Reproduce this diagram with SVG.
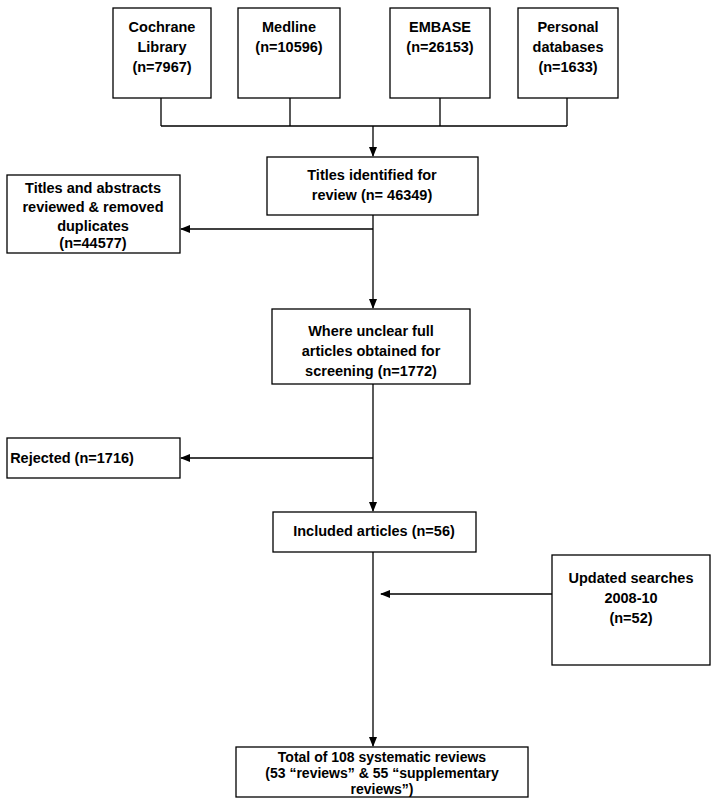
<svg xmlns="http://www.w3.org/2000/svg" width="721" height="800" viewBox="0 0 721 800">
<style>
.b{fill:#fff;stroke:#000;stroke-width:1.3}
.t{font-family:"Liberation Sans",Arial,sans-serif;font-weight:bold;font-size:14.5px;text-anchor:middle;fill:#000}
.s{font-size:14px}
.c{fill:none;stroke:#000;stroke-width:1.3}
</style>
<defs><marker id="a" markerWidth="10" markerHeight="10" refX="9" refY="5" orient="auto" markerUnits="userSpaceOnUse"><path d="M0,1 L10,5 L0,9 Z" fill="#000"/></marker></defs>
<rect width="721" height="800" fill="#fff"/>
<g id="connectors">
<path class="c" d="M161,98 V126 M290,98 V126 M440,98 V126 M567,98 V126 M161,126 H567"/>
<path class="c" d="M373,126 V156" marker-end="url(#a)"/>
<path class="c" d="M373,215 V308" marker-end="url(#a)"/>
<path class="c" d="M373,229 H181" marker-end="url(#a)"/>
<path class="c" d="M373,384 V511" marker-end="url(#a)"/>
<path class="c" d="M373,458 H181" marker-end="url(#a)"/>
<path class="c" d="M373,552 V746" marker-end="url(#a)"/>
<path class="c" d="M552,594 H381" marker-end="url(#a)"/>
</g>
<g id="cochrane"><rect class="b" x="113" y="8" width="98" height="90"/><text class="t" x="162" y="32">Cochrane</text><text class="t" x="162" y="52">Library</text><text class="t" x="162" y="72">(n=7967)</text></g>
<g id="medline"><rect class="b" x="238" y="8" width="102" height="90"/><text class="t" x="289" y="32">Medline</text><text class="t" x="289" y="52">(n=10596)</text></g>
<g id="embase"><rect class="b" x="390" y="8" width="100" height="90"/><text class="t" x="440" y="32">EMBASE</text><text class="t" x="440" y="52">(n=26153)</text></g>
<g id="personal"><rect class="b" x="518" y="8" width="100" height="90"/><text class="t" x="568" y="32">Personal</text><text class="t" x="568" y="52">databases</text><text class="t" x="568" y="72">(n=1633)</text></g>
<g id="titles"><rect class="b" x="267" y="157" width="211" height="58"/><text class="t" x="372" y="180">Titles identified for</text><text class="t" x="372" y="200">review (n= 46349)</text></g>
<g id="abstracts"><rect class="b" x="7" y="175" width="173" height="78"/><text class="t" x="93" y="193">Titles and abstracts</text><text class="t" x="93" y="212">reviewed &amp; removed</text><text class="t" x="93" y="231">duplicates</text><text class="t" x="93" y="248">(n=44577)</text></g>
<g id="unclear"><rect class="b" x="272" y="309" width="198" height="75"/><text class="t" x="371" y="336">Where unclear full</text><text class="t" x="371" y="356">articles obtained for</text><text class="t" x="371" y="376">screening (n=1772)</text></g>
<g id="rejected"><rect class="b" x="7" y="438" width="173" height="40"/><text class="t" x="72" y="463">Rejected (n=1716)</text></g>
<g id="included"><rect class="b" x="273" y="512" width="203" height="40"/><text class="t" x="374" y="536">Included articles (n=56)</text></g>
<g id="updated"><rect class="b" x="552" y="555" width="158" height="110"/><text class="t" x="631" y="583">Updated searches</text><text class="t" x="631" y="603">2008-10</text><text class="t" x="631" y="623">(n=52)</text></g>
<g id="total"><rect class="b" x="236" y="747" width="292" height="50"/><text class="t s" x="382" y="762">Total of 108 systematic reviews</text><text class="t s" x="382" y="778">(53 “reviews” &amp; 55 “supplementary</text><text class="t s" x="382" y="794">reviews”)</text></g>
</svg>
